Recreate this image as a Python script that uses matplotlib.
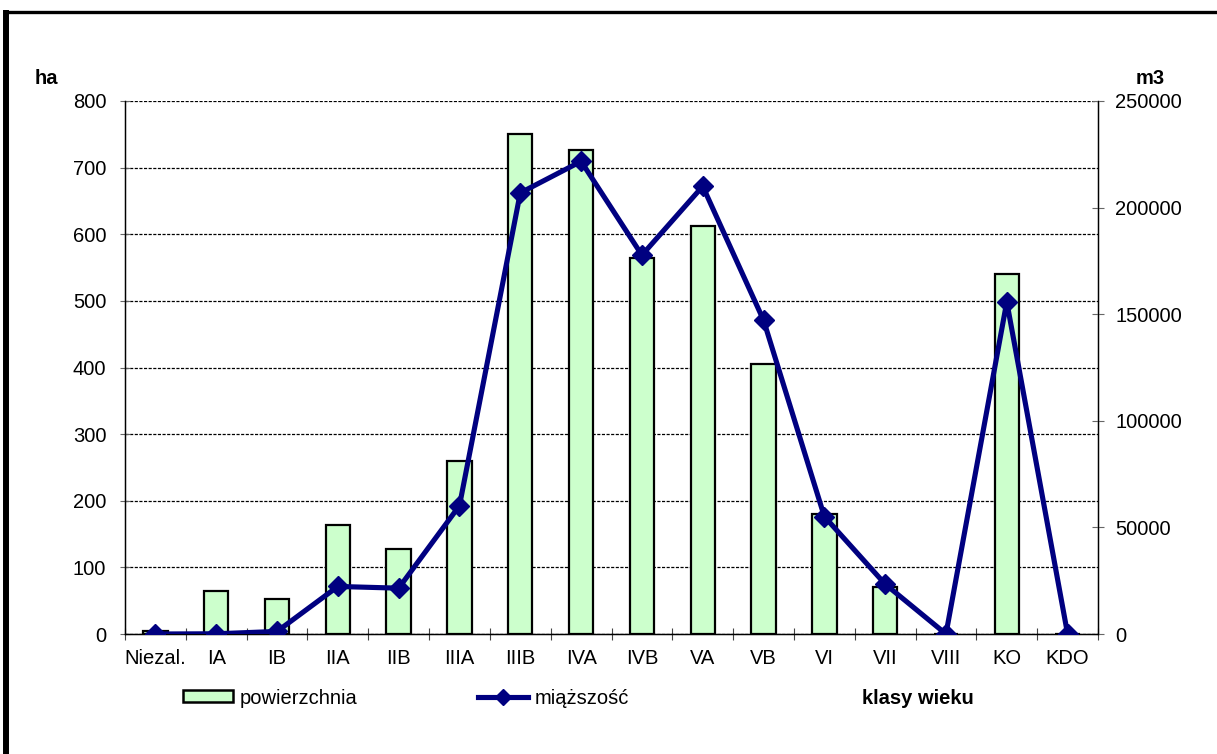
import matplotlib.pyplot as plt
from matplotlib.patches import Patch
from matplotlib.lines import Line2D

plt.rcParams['font.family'] = ['Liberation Sans', 'DejaVu Sans']

klasy = ["Niezal.", "IA", "IB", "IIA", "IIB", "IIIA", "IIIB", "IVA",
         "IVB", "VA", "VB", "VI", "VII", "VIII", "KO", "KDO"]
powierzchnia = [5, 65, 53, 164, 128, 259, 750, 726, 565, 612, 405, 180, 70, 0, 540, 0]
miazszosc = [0, 100, 1200, 22300, 21500, 60200, 206900, 221700, 177700,
             210000, 147200, 55100, 23400, 0, 155800, 0]

fig = plt.figure(figsize=(12.17, 7.54), dpi=100)
ax = fig.add_axes([125 / 1217, 120 / 754, (1098 - 125) / 1217, (634 - 101) / 754])

x = list(range(len(klasy)))
ax.bar(x, powierzchnia, width=0.4, color="#CCFFCC", edgecolor="black", linewidth=1.6, zorder=3)
ax.set_xlim(-0.5, len(klasy) - 0.5)
ax.set_ylim(0, 800)
ax.set_yticks(range(0, 801, 100))
ax.yaxis.grid(True, color="black", linestyle=(0, (2.5, 1.2)), linewidth=0.9)
ax.set_axisbelow(True)

ax.set_xticks([i + 0.5 for i in x[:-1]] + [-0.5, len(klasy) - 0.5])
ax.set_xticklabels([])
ax.set_xticks(x, minor=True)
ax.set_xticklabels(klasy, minor=True)
ax.tick_params(axis="x", which="major", direction="inout", length=9, width=0.8, color="#444444")
ax.tick_params(axis="x", which="minor", length=0, pad=11, labelsize=14.5)
ax.tick_params(axis="y", direction="inout", length=7, width=0.8, color="#666666", pad=10, labelsize=14.5)

ax.spines["top"].set_visible(False)
for s in ["left", "right", "bottom"]:
    ax.spines[s].set_linewidth(1.0)

ax2 = ax.twinx()
ax2.plot(x, miazszosc, color="#000080", linewidth=3.7, marker="D", markersize=10, zorder=5)
ax2.set_ylim(0, 250000)
ax2.set_yticks(range(0, 250001, 50000))
ax2.tick_params(axis="y", direction="inout", length=9, width=0.8, color="#666666", pad=8, labelsize=14.5)
ax2.spines["top"].set_visible(False)
ax2.set_xlim(-0.5, len(klasy) - 0.5)

fig.text(35 / 1217, 1 - 78 / 754, "ha", fontsize=14.5, fontweight="bold", va="center")
fig.text(1136 / 1217, 1 - 78 / 754, "m3", fontsize=14.5, fontweight="bold", va="center")
fig.text(862 / 1217, 1 - 698 / 754, "klasy wieku", fontsize=14.5, fontweight="bold", va="center")

handles = [Patch(facecolor="#CCFFCC", edgecolor="black", linewidth=1.8),
           Line2D([], [], color="#000080", linewidth=3.7, marker="D", markersize=8)]
fig.legend(handles, ["powierzchnia", "miąższość"], loc="center left",
           bbox_to_anchor=(183 / 1217, 1 - 698 / 754), ncol=2, frameon=False,
           fontsize=14.5, handlelength=2.5, handleheight=0.55, handletextpad=0.3,
           columnspacing=6.0, borderpad=0, borderaxespad=0)

# ramka wokol wykresu
fig.add_artist(Line2D([3 / 1217, 1], [1 - 11.7 / 754] * 2, color="black", linewidth=2.4,
                      transform=fig.transFigure, solid_capstyle="butt"))
fig.add_artist(Line2D([6.3 / 1217] * 2, [1 - 10 / 754, 0], color="black", linewidth=4.3,
                      transform=fig.transFigure, solid_capstyle="butt"))

fig.savefig("out.png", dpi=100)
